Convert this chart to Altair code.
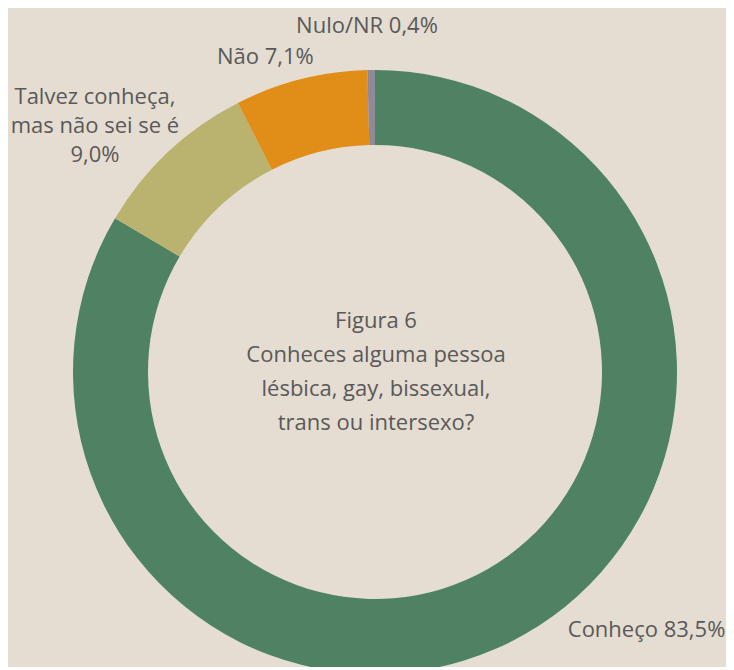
import altair as alt
import pandas as pd

categories = ["Conheço", "Talvez conheça, mas não sei se é", "Não", "Nulo/NR"]
values = [83.5, 9.0, 7.1, 0.4]
labels = [["Conheço 83,5%"], ["Talvez conheça,", "mas não sei se é", "9,0%"], ["Não 7,1%"], ["Nulo/NR 0,4%"]]
colors = ["#4e8262", "#bab36f", "#e08e18", "#8e8a9a"]
center_text = ["Figura 6", "Conheces alguma pessoa", "lésbica, gay, bissexual,", "trans ou intersexo?"]

df = pd.DataFrame({
    "cat": categories,
    "value": values,
    "idx": list(range(len(categories))),
    "label": labels,
})

BG = "#e5ddd1"
TXT = "#595959"
FONT = "Open Sans"
FS = 22
CX = 367

theta_scale = alt.Scale(domain=[0, 100], range=[0, 6.283185307179586])
color_scale = alt.Scale(domain=categories, range=colors)

base = alt.Chart(df)

arc = base.mark_arc(outerRadius=302, innerRadius=227, stroke=None).encode(
    x=alt.value(CX),
    theta=alt.Theta("value:Q", stack=True, scale=theta_scale),
    color=alt.Color("cat:N", scale=color_scale, legend=None),
    order=alt.Order("idx:Q"),
)

mid = base.transform_window(
    cum="sum(value)", sort=[alt.SortField("idx")], frame=[None, 0]
).transform_calculate(mid="datum.cum - datum.value / 2")

def lab(cat, dx, dy, line_height=30):
    return mid.transform_filter(alt.datum.cat == cat).mark_text(
        radius=320, dx=dx, dy=dy, align="center", baseline="middle",
        font=FONT, fontSize=FS, color=TXT, lineHeight=line_height,
    ).encode(
        x=alt.value(CX),
        theta=alt.Theta("mid:Q", stack=None, scale=theta_scale),
        text="label",
    )

lab_con = lab("Conheço", 113, -20)
lab_tal = lab("Talvez conheça, mas não sei se é", -61, -42, 29)
lab_nao = lab("Não", -31, -5)
lab_nulo = lab("Nulo/NR", -4, -26)

center = alt.Chart(pd.DataFrame({"t": [center_text]})).mark_text(
    font=FONT, fontSize=FS, color=TXT, lineHeight=34, align="center", baseline="middle",
    dy=-51,
).encode(x=alt.value(CX + 1), text="t")

chart = alt.layer(arc, lab_con, lab_tal, lab_nao, lab_nulo, center).properties(
    width=718, height=590,
    autosize=alt.AutoSizeParams(type="none"),
    padding={"left": 0, "top": 69, "right": 0, "bottom": 0},
    background=BG,
).configure_view(stroke=None)

chart.save("out.html", embed_options={"renderer": "svg", "actions": False})
